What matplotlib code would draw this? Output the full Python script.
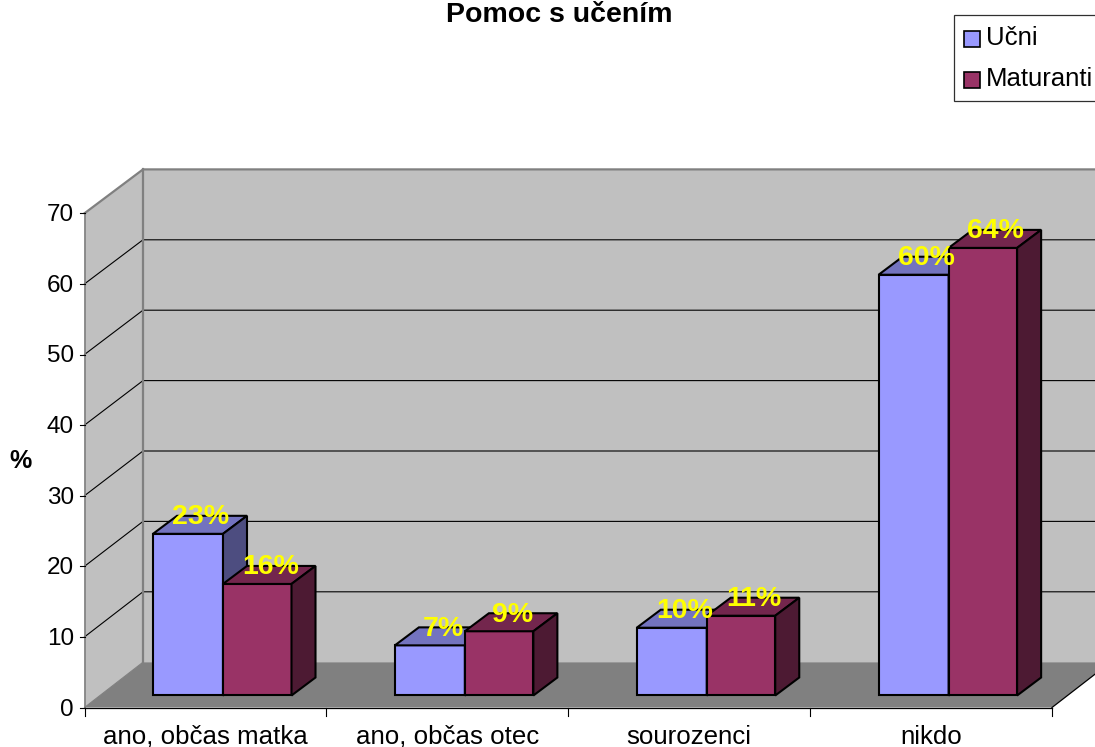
import matplotlib
matplotlib.use('Agg')
import matplotlib.pyplot as plt
from matplotlib.patches import Polygon, Rectangle

plt.rcParams['font.family'] = ['Liberation Sans', 'DejaVu Sans']

title = 'Pomoc s učením'
categories = ['ano, občas matka', 'ano, občas otec', 'sourozenci', 'nikdo']
series_names = ['Učni', 'Maturanti']
ucni = [22.9, 7.1, 9.6, 59.6]
maturanti = [15.8, 9.1, 11.3, 63.4]
ucni_labels = ['23%', '7%', '10%', '60%']
maturanti_labels = ['16%', '9%', '11%', '64%']
y_ticks = [0, 10, 20, 30, 40, 50, 60, 70]

BLUE = ('#9999FF', '#7373BF', '#4D4D80')
MAROON = ('#993366', '#73264D', '#4D1A33')

# chart box in picture pixels
X0, X1 = 84.5, 1052
Y0 = 707.5
UNIT = 7.06
WALL_UNIT = 7.04
DEPTH_X, DEPTH_Y = 58.5, 45.3
CAT_W = (X1 - X0) / len(categories)
BAR_W1 = 70
BAR_W2 = 68.5
GAP = 53


def front(x, v, d=0.0):
    # d: 0 at the front of the floor, 1 at the back wall
    unit = UNIT + d * (WALL_UNIT - UNIT)
    return (x + d * DEPTH_X, Y0 - v * unit - d * DEPTH_Y)


fig = plt.figure(figsize=(10.95, 7.47), dpi=100)
ax = fig.add_axes([0, 0, 1, 1])
ax.set_xlim(0, 1095)
ax.set_ylim(747, 0)
ax.axis('off')

top_v = y_ticks[-1]
# back wall, side wall, floor
ax.add_patch(Polygon([front(X0, 0, 1), front(X1 + 100, 0, 1), front(X1 + 100, top_v, 1), front(X0, top_v, 1)],
                     fc='#C0C0C0', ec='none', zorder=1))
ax.add_patch(Polygon([front(X0, 0), front(X0, 0, 1), front(X0, top_v, 1), front(X0, top_v)],
                     fc='#C0C0C0', ec='none', zorder=1))
ax.add_patch(Polygon([front(X0, 0), front(X1, 0), front(X1, 0, 1), front(X1 + 100, 0, 1), front(X0, 0, 1)],
                     fc='#808080', ec='none', zorder=1))

# grid lines
for v in y_ticks[1:-1]:
    a, b, c = front(X0, v), front(X0, v, 1), front(X1 + 100, v, 1)
    ax.plot([a[0], b[0], c[0]], [a[1], b[1], c[1]], color='black', lw=0.8, zorder=2)

# wall edges
a, b, c = front(X0, top_v), front(X0, top_v, 1), front(X1 + 100, top_v, 1)
ax.plot([a[0], b[0], c[0]], [a[1], b[1], c[1]], color='#808080', lw=1.6, zorder=2)
a, b = front(X0, 0, 1), front(X0, top_v, 1)
ax.plot([a[0], b[0]], [a[1], b[1]], color='#808080', lw=1.6, zorder=2)
a, b = front(X0, 0), front(X0, top_v)
ax.plot([a[0], b[0]], [a[1], b[1]], color='#808080', lw=1.2, zorder=2)
a, b = front(X0, 0), front(X0, 0, 1)
ax.plot([a[0], b[0]], [a[1], b[1]], color='#808080', lw=0.8, zorder=2)

# axes
ax.plot([X0, X1], [Y0, Y0], color='black', lw=0.9, zorder=3)
a, b = front(X1, 0), front(X1, 0, 1)
ax.plot([a[0], b[0]], [a[1], b[1]], color='black', lw=0.9, zorder=3)
for i in range(len(categories) + 1):
    x = X0 + i * CAT_W
    ax.plot([x, x], [Y0, Y0 + 8], color='black', lw=0.8, zorder=3)
for v in y_ticks:
    _, y = front(X0, v)
    ax.plot([X0 - 5, X0], [y, y], color='black', lw=0.8, zorder=3)
    ax.text(74, y + 2, str(v), ha='right', va='center', fontsize=17.5, color='black')

for i, cat in enumerate(categories):
    ax.text(X0 + (i + 0.5) * CAT_W, 743.5, cat, ha='center', va='baseline', fontsize=18.6, color='black')


def draw_bar(x, v, width, colors, z):
    bx, by = x + 0.265 * DEPTH_X, Y0 - 0.265 * DEPTH_Y
    dx, dy = 24, 18
    top = by - v * UNIT
    style = dict(ec='black', lw=1.5, joinstyle='miter', zorder=z)
    ax.add_patch(Polygon([(bx, by), (bx + width, by), (bx + width, top), (bx, top)], fc=colors[0], **style))
    ax.add_patch(Polygon([(bx, top), (bx + width, top), (bx + width + dx, top - dy), (bx + dx, top - dy)],
                         fc=colors[1], **style))
    ax.add_patch(Polygon([(bx + width, by), (bx + width + dx, by - dy), (bx + width + dx, top - dy), (bx + width, top)],
                         fc=colors[2], **style))
    return bx + width / 2 + dx / 2, top - dy


for i in range(len(categories)):
    x = X0 + i * CAT_W + GAP
    lx, ly = draw_bar(x, ucni[i], BAR_W1, BLUE, 5)
    ax.text(lx + 1, ly + 1.5, ucni_labels[i], ha='center', va='center', fontsize=20.5, fontweight='bold', color='yellow', zorder=10)
    lx, ly = draw_bar(x + BAR_W1, maturanti[i], BAR_W2, MAROON, 6)
    ax.text(lx + 1, ly + 1.5, maturanti_labels[i], ha='center', va='center', fontsize=20.5, fontweight='bold', color='yellow', zorder=10)

ax.text(559, 15, title, ha='center', va='center', fontsize=20.5, fontweight='bold', color='black')
ax.text(21, 461, '%', ha='center', va='center', fontsize=18, fontweight='bold', color='black')

# legend box
ax.add_patch(Rectangle((954, 14.5), 160, 86, fc='white', ec='#303030', lw=0.9, zorder=3))
for y, name, col in zip([38.5, 80], series_names, [BLUE[0], MAROON[0]]):
    ax.add_patch(Rectangle((963.5, y - 8), 16, 16, fc=col, ec='black', lw=1.2, zorder=4))
    ax.text(986, y - 0.5, name, ha='left', va='center', fontsize=18.5, color='black', zorder=4)

fig.savefig('out.png', dpi=100)
